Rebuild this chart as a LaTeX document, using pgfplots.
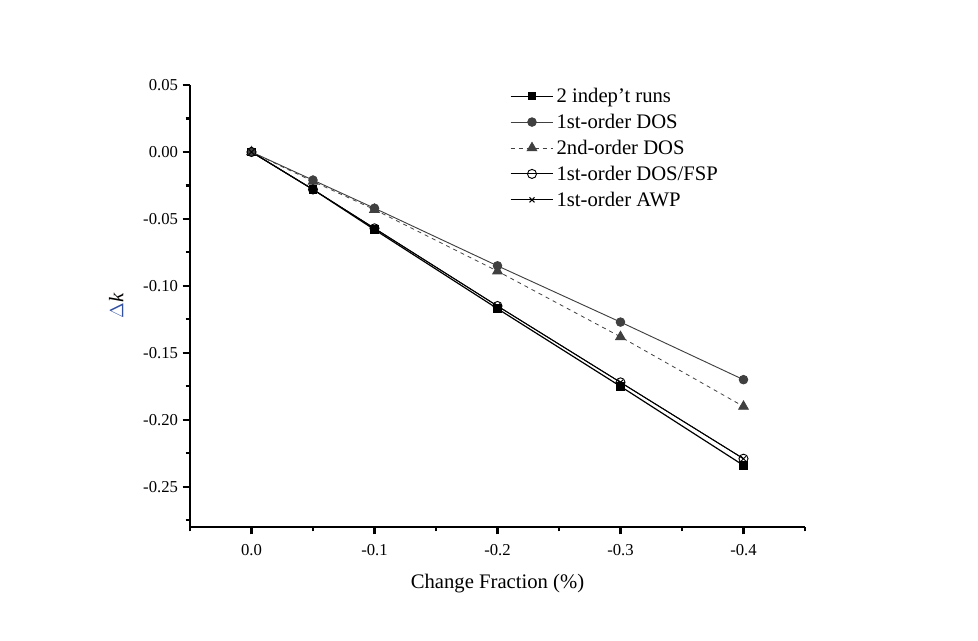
\documentclass[border=0pt]{standalone}
\usepackage{pgfplots}
\pgfplotsset{compat=1.18}
\usepackage{fontspec}
\setmainfont{Liberation Serif}
\definecolor{dgray}{RGB}{64,64,64}
\definecolor{dblue}{RGB}{50,80,160}
\begin{document}
\begin{tikzpicture}
\path[use as bounding box] (0pt,0pt) rectangle (733.5pt,480pt);
\begin{axis}[
  at={(142.5pt,84.75pt)}, anchor=south west,
  scale only axis, width=461.25pt, height=331.5pt,
  x dir=reverse,
  xmin=-0.45, xmax=0.05, ymin=-0.28, ymax=0.05,
  axis x line*=bottom, axis y line*=left,
  axis line style={line width=1.6pt, -},
  xtick={0,-0.1,-0.2,-0.3,-0.4},
  xticklabels={0.0,-0.1,-0.2,-0.3,-0.4},
  minor xtick={0.05,-0.05,-0.15,-0.25,-0.35,-0.45},
  ytick={0.05,0,-0.05,-0.1,-0.15,-0.2,-0.25},
  yticklabels={0.05,0.00,-0.05,-0.10,-0.15,-0.20,-0.25},
  minor ytick={0.025,-0.025,-0.075,-0.125,-0.175,-0.225,-0.275},
  tick align=outside,
  major tick length=5.5pt, minor tick length=3.2pt,
  tick style={line width=1.6pt, black},
  ticklabel style={font=\fontsize{12.5}{14}\selectfont},
  xticklabel style={yshift=-4pt},
  /pgf/number format/assume math mode=true,
  xlabel={Change Fraction (\%)},
  xlabel style={font=\fontsize{15.5}{18}\selectfont, yshift=-7pt},
  ylabel={{\color{dblue}$\Delta$}\textit{k}},
  ylabel style={font=\fontsize{15.5}{18}\selectfont, yshift=8pt},
  legend style={draw=none, fill=none, at={(0.52,1.0)}, anchor=north west,
    font=\fontsize{15.5}{18}\selectfont, row sep=3.2pt, inner sep=0pt},
  legend cell align=left,
  legend image code/.code={\draw[mark repeat=2,mark phase=2,#1] plot coordinates {(0pt,0pt) (16pt,0pt) (32pt,0pt)};},
]
\addplot[black, line width=0.9pt, mark=square*, mark size=2.7pt, mark options={solid, fill=black}]
  coordinates {(0,0) (-0.05,-0.028) (-0.1,-0.058) (-0.2,-0.117) (-0.3,-0.175) (-0.4,-0.234)};
\addlegendentry{2 indep't runs}
\addplot[dgray, line width=0.7pt, mark=*, mark size=3.2pt, mark options={solid, fill=dgray}]
  coordinates {(0,0) (-0.05,-0.021) (-0.1,-0.042) (-0.2,-0.085) (-0.3,-0.127) (-0.4,-0.170)};
\addlegendentry{1st-order DOS}
\addplot[dgray, line width=0.6pt, dashed, mark=triangle*, mark size=4.2pt, mark options={solid, fill=dgray}]
  coordinates {(0,0) (-0.05,-0.022) (-0.1,-0.043) (-0.2,-0.089) (-0.3,-0.138) (-0.4,-0.190)};
\addlegendentry{2nd-order DOS}
\addplot[black, line width=0.7pt, mark=o, mark size=3.4pt, mark options={solid, fill=white}]
  coordinates {(0,0) (-0.05,-0.028) (-0.1,-0.057) (-0.2,-0.115) (-0.3,-0.172) (-0.4,-0.229)};
\addlegendentry{1st-order DOS/FSP}
\addplot[black, line width=0.7pt, mark=x, mark size=2.7pt, mark options={solid}]
  coordinates {(0,0) (-0.05,-0.028) (-0.1,-0.057) (-0.2,-0.115) (-0.3,-0.172) (-0.4,-0.229)};
\addlegendentry{1st-order AWP}
\end{axis}
\end{tikzpicture}
\end{document}
